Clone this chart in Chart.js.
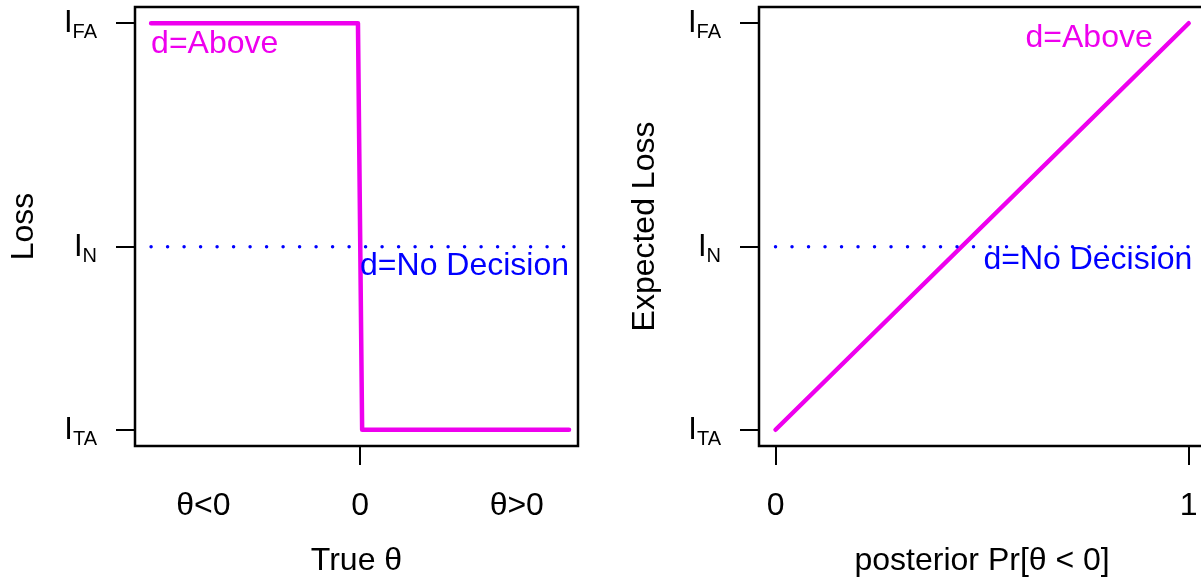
<!DOCTYPE html>
<html>
<head>
<meta charset="utf-8">
<script src="https://cdn.jsdelivr.net/npm/chart.js@4/dist/chart.umd.min.js"></script>
<style>
html, body { margin: 0; padding: 0; overflow: hidden; background: #fff; width: 1201px; height: 578px; }
#left { position: absolute; left: 0; top: 0; }
#right { position: absolute; left: 600px; top: 0; }
</style>
</head>
<body>
<canvas id="left" width="600" height="578"></canvas>
<canvas id="right" width="620" height="578"></canvas>
<script>
// values
const lossX = [-1, -0.01, 0.01, 1];
const lossY = [1, 1, 0, 0];
const noDecLeftX = [-1, 1];
const noDecY = [0.45, 0.45];
const postX = [0, 1];
const expLossY = [0, 1];
const noDecRightX = [0, 1];

const leftTickValues = [-0.75, 0, 0.75];
const leftTickLabels = ['θ<0', '0', 'θ>0'];
const rightTickValues = [0, 1];
const rightTickLabels = ['0', '1'];
const yTickValues = [0, 0.45, 1];
const yTickSubs = ['TA', 'N', 'FA'];

const fam = '"Liberation Sans", Arial, Helvetica, sans-serif';
const magenta = '#EE00EE';
const blue = '#0000FF';

Chart.defaults.font.family = fam;
Chart.defaults.color = '#000';

function pts(xs, ys) {
    return xs.map((x, i) => ({ x: x, y: ys[i] }));
}

// frame box, subscripted y tick labels and in-plot texts
const framePlugin = {
    id: 'frame',
    afterDraw(chart, args, opts) {
        const ctx = chart.ctx;
        const a = chart.chartArea;
        const xs = chart.scales.x;
        const ys = chart.scales.y;
        ctx.save();
        ctx.strokeStyle = '#000';
        ctx.lineWidth = 2.5;
        ctx.strokeRect(a.left, a.top, a.right - a.left, a.bottom - a.top);

        ctx.fillStyle = '#000';
        ctx.textAlign = 'left';
        ctx.textBaseline = 'alphabetic';
        yTickValues.forEach((v, i) => {
            const py = ys.getPixelForValue(v);
            ctx.font = '31px ' + fam;
            const wI = ctx.measureText('I').width;
            ctx.font = '20px ' + fam;
            const wS = ctx.measureText(yTickSubs[i]).width;
            const x0 = a.left - 38 - wS - wI;
            ctx.font = '31px ' + fam;
            ctx.fillText('I', x0, py + 9);
            ctx.font = '20px ' + fam;
            ctx.fillText(yTickSubs[i], x0 + wI, py + 15);
        });

        ctx.font = '32px ' + fam;
        (opts.labels || []).forEach(l => {
            ctx.fillStyle = l.color;
            ctx.textAlign = l.align;
            ctx.fillText(l.text, xs.getPixelForValue(l.x), ys.getPixelForValue(l.y));
        });
        ctx.restore();
    }
};

function makeChart(id, cfg) {
    const ctx = document.getElementById(id).getContext('2d');
    return new Chart(ctx, {
        type: 'scatter',
        data: { datasets: cfg.datasets },
        options: {
            responsive: false,
            animation: false,
            devicePixelRatio: 1,
            layout: { padding: { left: 0, top: 7, right: cfg.padRight, bottom: 0 } },
            plugins: {
                legend: { display: false },
                tooltip: { enabled: false },
                frame: { labels: cfg.labels }
            },
            scales: {
                x: {
                    type: 'linear',
                    min: cfg.xMin,
                    max: cfg.xMax,
                    afterBuildTicks: (s) => { s.ticks = cfg.tickValues.map(v => ({ value: v })); },
                    afterFit: (s) => { s.height = 132; },
                    ticks: {
                        autoSkip: false,
                        maxRotation: 0,
                        padding: 22,
                        font: { size: 32 },
                        callback: (v, i) => cfg.tickLabels[i]
                    },
                    grid: {
                        drawOnChartArea: false,
                        tickLength: 19,
                        lineWidth: 2,
                        color: '#000',
                        tickColor: (c) => (c.tick && cfg.markedTicks.includes(c.tick.value)) ? '#000' : 'rgba(0,0,0,0)'
                    },
                    border: { display: false },
                    title: {
                        display: true,
                        text: cfg.xTitle,
                        font: { size: 32, lineHeight: 1 },
                        padding: { top: 0, bottom: 1 }
                    }
                },
                y: {
                    type: 'linear',
                    min: -0.04,
                    max: 1.04,
                    afterBuildTicks: (s) => { s.ticks = yTickValues.map(v => ({ value: v })); },
                    afterFit: (s) => { s.width = cfg.yWidth; },
                    ticks: { display: false },
                    grid: {
                        drawOnChartArea: false,
                        tickLength: 19,
                        lineWidth: 2,
                        color: '#000'
                    },
                    border: { display: false },
                    title: {
                        display: true,
                        text: cfg.yTitle,
                        font: { size: 32, lineHeight: 1 },
                        padding: { top: cfg.yTitlePad, bottom: 0 }
                    }
                }
            }
        },
        plugins: [framePlugin]
    });
}

makeChart('left', {
    xMin: -1.077, xMax: 1.043,
    padRight: 22, yWidth: 135, yTitlePad: 8,
    tickValues: leftTickValues, tickLabels: leftTickLabels, markedTicks: [0],
    xTitle: 'True θ', yTitle: 'Loss',
    datasets: [
        {
            data: pts(noDecLeftX, noDecY), showLine: true, pointRadius: 0,
            borderColor: blue, borderWidth: 3.5, borderDash: [0, 16.5], borderCapStyle: 'round'
        },
        {
            data: pts(lossX, lossY), showLine: true, pointRadius: 0,
            borderColor: magenta, borderWidth: 4.5, borderCapStyle: 'round', borderJoinStyle: 'round'
        }
    ],
    labels: [
        { text: 'd=Above', x: -1, y: 0.928, align: 'left', color: magenta },
        { text: 'd=No Decision', x: 0, y: 0.381, align: 'left', color: blue }
    ]
});

makeChart('right', {
    xMin: -0.04, xMax: 1.04,
    padRight: 11, yWidth: 159, yTitlePad: 29,
    tickValues: rightTickValues, tickLabels: rightTickLabels, markedTicks: [0, 1],
    xTitle: 'posterior Pr[θ < 0]', yTitle: 'Expected Loss',
    datasets: [
        {
            data: pts(noDecRightX, noDecY), showLine: true, pointRadius: 0,
            borderColor: blue, borderWidth: 3.5, borderDash: [0, 16.5], borderCapStyle: 'round'
        },
        {
            data: pts(postX, expLossY), showLine: true, pointRadius: 0,
            borderColor: magenta, borderWidth: 4.5, borderCapStyle: 'round'
        }
    ],
    labels: [
        { text: 'd=Above', x: 0.913, y: 0.942, align: 'right', color: magenta },
        { text: 'd=No Decision', x: 1.009, y: 0.395, align: 'right', color: blue }
    ]
});
</script>
</body>
</html>
